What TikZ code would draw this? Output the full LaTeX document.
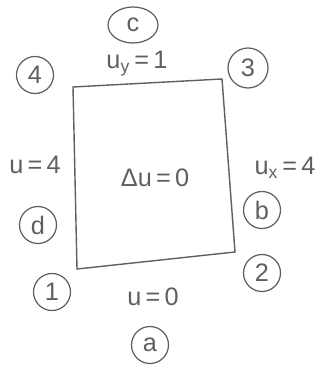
\documentclass[tikz,border=0pt]{standalone}
\usepackage{fontspec}
\setmainfont{Liberation Sans}
\usepackage{tikz}
\usetikzlibrary{shapes.geometric}
\definecolor{pencil}{RGB}{95,95,95}

\begin{document}
\begin{tikzpicture}[x=0.02cm, y=-0.02cm, tag/.style={draw=pencil, circle, minimum size=0.74cm, inner sep=0pt, font=\Large, text=pencil, line width=0.7pt}, cond/.style={font=\Large, text=pencil, inner sep=1pt}, edge/.style={draw=pencil, line width=0.8pt}]
\useasboundingbox (0,0) rectangle (322,367);
\coordinate (p4) at (73,87); \coordinate (p3) at (222,79); \coordinate (p2) at (235,252); \coordinate (p1) at (77,269);
\draw[edge] (p1) -- (p2) -- (p3) -- (p4) -- cycle;
\node[cond] (lap) at (155,178) {Δu\,=\,0};
\node[cond] (ca) at (153,297) {u\,=\,0};
\node[cond] (cb) at (285,168) {u\textsubscript{x}\,=\,4};
\node[cond] (cc) at (137,64) {u\textsubscript{y}\,=\,1};
\node[cond] (cd) at (35,165) {u\,=\,4};
\node[tag] (t1) at (52,292) {1}; \node[tag] (t2) at (262,273) {2};
\node[tag, minimum size=0.8cm] (t3) at (248,68) {3}; \node[tag] (t4) at (35,75) {4};
\node[tag] (ta) at (150,345) {a}; \node[tag] (tb) at (262,210) {b};
\node[tag, ellipse, minimum width=1cm, minimum height=0.72cm] (tc) at (133,25) {c}; \node[tag] (td) at (38,225) {d};
\end{tikzpicture}
\end{document}
